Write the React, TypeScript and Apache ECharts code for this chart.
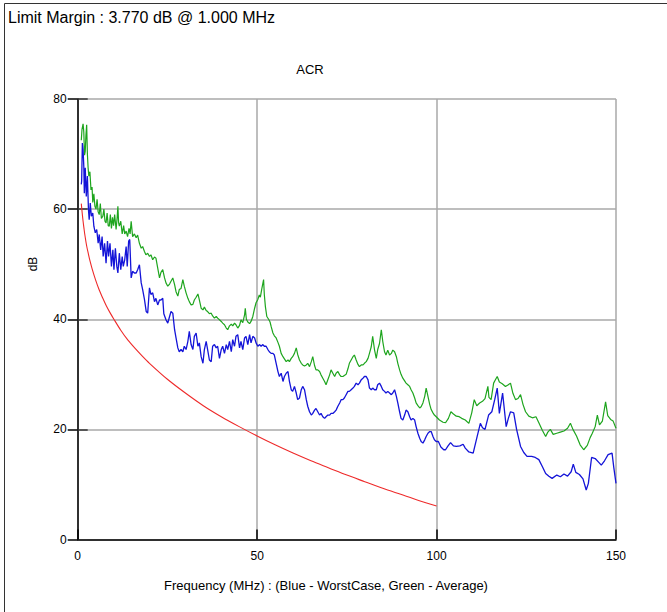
import React, { useEffect, useRef } from "react";
import * as echarts from "echarts";

const FONT = '"Liberation Sans", Arial, sans-serif';

const xTicks = [0, 50, 100, 150];
const yTicks = [0, 20, 40, 60, 80];

const limitFreq = [1, 1.25, 1.5, 1.75, 2, 2.5, 3, 3.5, 4, 5, 6, 7, 8, 9, 10, 12, 14, 16, 18, 20, 25, 30, 35, 40, 45, 50, 55, 60, 65, 70, 75, 80, 85, 90, 95, 100];
const limitDb = [61.0, 59.3, 57.8, 56.5, 55.3, 53.3, 51.8, 50.4, 49.2, 47.1, 45.3, 43.8, 42.4, 41.2, 40.1, 38.0, 36.2, 34.7, 33.3, 32.0, 29.1, 26.6, 24.3, 22.3, 20.5, 18.8, 17.2, 15.7, 14.3, 13.0, 11.7, 10.5, 9.3, 8.2, 7.1, 6.1];

const greenFreq = [
  1.0, 1.2, 1.5, 1.7, 1.9, 2.1, 2.3, 2.5, 2.7, 2.9, 3.1, 3.4, 3.7, 4.0, 4.2, 4.5, 4.8, 5.1, 5.4, 5.7,
  6.0, 6.3, 6.6, 7.0, 7.3, 7.6, 7.9, 8.2, 8.5, 8.8, 9.1, 9.4, 9.7, 10.0, 10.3, 10.7, 11.0, 11.2, 11.4, 11.6,
  12.0, 12.4, 12.8, 13.1, 13.5, 13.9, 14.3, 14.6, 14.9, 15.3, 15.8, 16.3, 16.7, 17.2, 17.7, 18.1, 18.6, 19.0, 19.5, 20.0,
  20.4, 20.9, 21.4, 21.8, 22.3, 22.8, 23.2, 23.7, 24.2, 24.6, 25.1, 25.6, 26.0, 26.5, 27.0, 27.4, 27.9, 28.3, 28.8, 29.3,
  29.7, 30.2, 30.7, 31.1, 31.6, 32.1, 32.5, 33.0, 33.5, 33.9, 34.4, 34.9, 35.3, 35.8, 36.2, 36.7, 37.2, 37.6, 38.1, 38.6,
  39.0, 39.5, 40.0, 40.4, 40.9, 41.4, 41.8, 42.3, 42.8, 43.2, 43.7, 44.1, 44.6, 45.1, 45.5, 46.0, 46.5, 46.7, 47.0, 47.4,
  47.9, 48.3, 48.8, 49.3, 49.7, 50.2, 50.6, 50.9, 51.3, 51.8, 52.0, 52.3, 52.7, 53.2, 53.6, 53.9, 54.4, 54.8, 55.3, 55.8,
  56.2, 56.7, 57.2, 57.6, 58.1, 58.6, 59.0, 59.5, 59.9, 60.4, 60.9, 61.3, 61.8, 62.3, 62.7, 63.2, 63.7, 64.1, 64.6, 65.1,
  65.5, 66.0, 66.4, 66.9, 67.4, 67.8, 68.3, 68.8, 69.2, 69.7, 70.2, 70.6, 71.1, 71.6, 72.0, 72.5, 73.0, 73.4, 73.9, 74.3,
  74.8, 75.3, 75.7, 76.2, 76.7, 77.1, 77.6, 78.1, 78.5, 79.0, 79.5, 79.9, 80.4, 80.9, 81.3, 81.8, 82.2, 82.7, 83.2, 83.6,
  84.1, 84.6, 85.0, 85.5, 85.9, 86.4, 86.9, 87.4, 87.8, 88.3, 88.8, 89.2, 89.7, 90.1, 90.6, 91.1, 91.5, 92.0, 92.5, 92.9,
  93.4, 93.9, 94.3, 94.8, 95.3, 95.7, 96.2, 96.7, 97.1, 97.6, 98.1, 98.5, 99.0, 99.4, 99.9, 100.8, 101.8, 102.5, 103.3, 104.0,
  104.7, 105.5, 106.3, 107.0, 108.0, 109.0, 109.8, 110.5, 111.2, 112.0, 112.8, 113.5, 114.3, 114.6, 115.2, 115.9, 116.4, 116.9, 117.5, 118.3,
  119.2, 120.0, 120.6, 121.3, 122.0, 122.7, 123.4, 124.1, 124.8, 125.7, 126.7, 127.7, 128.5, 129.5, 130.4, 131.0, 131.7, 132.5, 133.5, 134.5,
  135.5, 136.5, 137.3, 138.0, 139.0, 140.0, 141.0, 142.0, 142.8, 143.4, 144.2, 144.8, 145.4, 146.2, 147.1, 147.7, 148.5, 149.2, 150.0,
];
const greenDb = [
  72.5, 74.5, 75.5, 74.0, 69.8, 70.5, 73.5, 75.3, 70.0, 67.5, 66.0, 66.8, 63.5, 64.0, 61.2, 62.8, 60.5, 60.0, 61.8, 59.5,
  59.0, 61.0, 58.3, 58.7, 60.0, 57.8, 57.5, 59.3, 57.0, 56.9, 59.0, 56.5, 58.5, 57.0, 59.0, 56.3, 58.5, 60.5, 57.5, 56.9,
  57.8, 55.5, 57.0, 55.5, 56.0, 55.0, 56.5, 55.5, 57.8, 55.0, 55.5, 54.8, 55.3, 53.8, 52.9, 53.2, 52.3, 51.7, 52.0, 51.4,
  51.7, 50.8, 51.3, 51.1, 49.3, 47.5, 48.5, 49.0, 47.5, 46.6, 46.0, 46.4, 46.9, 47.5, 46.3, 45.0, 44.2, 45.4, 45.6, 47.2,
  46.0, 44.8, 43.8, 43.2, 42.6, 42.7, 43.5, 44.0, 44.6, 43.5, 42.0, 41.7, 42.2, 41.6, 41.4, 41.0, 41.1, 40.6, 40.2, 40.5,
  40.2, 39.9, 39.6, 39.3, 39.0, 38.4, 38.1, 38.8, 39.1, 38.8, 39.3, 39.0, 38.4, 38.9, 39.9, 39.4, 40.8, 42.0, 40.0, 39.5,
  39.2, 39.6, 40.5, 42.0, 43.0, 43.6, 44.4, 44.0, 45.5, 47.2, 44.5, 42.3, 40.5, 40.0, 39.5, 38.7, 37.5, 37.0, 36.6, 35.8,
  35.1, 33.8, 33.2, 32.8, 32.3, 32.6, 32.3, 32.9, 33.2, 33.8, 34.8, 33.6, 32.6, 32.0, 31.7, 31.5, 31.7, 32.0, 31.4, 32.3,
  33.2, 31.6, 30.8, 30.8, 30.5, 29.9, 29.3, 28.7, 28.1, 29.0, 29.9, 30.8, 30.2, 29.6, 30.2, 30.5, 29.9, 29.6, 29.6, 29.8,
  30.0, 31.0, 32.0, 32.6, 33.2, 33.5, 32.6, 31.8, 31.4, 31.7, 31.7, 32.0, 32.3, 32.9, 33.8, 35.0, 36.9, 34.5, 32.9, 34.5,
  35.6, 38.1, 36.0, 34.1, 33.5, 34.4, 33.5, 33.8, 34.4, 34.1, 33.2, 32.0, 30.8, 30.0, 29.3, 28.8, 28.4, 28.1, 27.8, 27.2,
  26.6, 25.7, 24.8, 24.3, 23.9, 24.1, 24.8, 26.0, 27.5, 26.0, 24.5, 23.6, 23.0, 22.6, 22.3, 21.7, 21.3, 21.2, 22.0, 23.2,
  22.8, 22.4, 22.3, 22.0, 21.7, 21.1, 23.0, 25.4, 24.3, 24.8, 25.1, 25.6, 27.8, 25.8, 25.4, 28.4, 29.0, 29.6, 28.6, 28.3,
  27.8, 28.1, 28.4, 26.5, 25.4, 25.6, 26.3, 24.5, 23.2, 22.4, 22.1, 22.3, 21.2, 19.8, 18.7, 19.5, 20.0, 19.1, 19.3, 19.5,
  19.7, 20.2, 21.1, 20.0, 18.8, 17.2, 16.3, 17.1, 18.5, 19.3, 20.5, 22.6, 20.8, 21.5, 25.0, 22.5, 21.8, 21.5, 20.2,
];

const blueFreq = [
  1.0, 1.1, 1.3, 1.5, 1.7, 1.85, 2.1, 2.4, 2.7, 3.0, 3.2, 3.5, 3.8, 4.2, 4.5, 4.9, 5.3, 5.7, 6.0, 6.4,
  6.8, 7.1, 7.5, 7.9, 8.3, 8.6, 9.0, 9.4, 9.8, 10.1, 10.5, 10.9, 11.2, 11.6, 12.0, 12.4, 12.7, 13.1, 13.5, 13.8,
  14.2, 14.5, 14.9, 15.3, 15.8, 16.3, 16.7, 17.2, 17.7, 18.1, 18.6, 19.1, 19.5, 20.0, 20.4, 20.9, 21.4, 21.8, 22.3, 22.8,
  23.2, 23.7, 24.0, 24.6, 25.1, 25.6, 26.0, 26.5, 27.0, 27.4, 27.9, 28.3, 28.8, 29.3, 29.7, 30.2, 30.7, 31.1, 31.6, 32.1,
  32.5, 33.0, 33.5, 33.9, 34.4, 34.9, 35.3, 35.8, 36.2, 36.7, 37.2, 37.6, 38.1, 38.6, 39.0, 39.5, 40.0, 40.4, 40.9, 41.4,
  41.8, 42.3, 42.8, 43.2, 43.7, 44.1, 44.6, 45.1, 45.5, 46.0, 46.5, 46.9, 47.4, 47.9, 48.3, 48.8, 49.3, 49.7, 50.2, 50.7,
  51.1, 51.6, 52.0, 52.5, 53.0, 53.4, 53.9, 54.4, 54.8, 55.3, 55.8, 56.2, 56.7, 57.2, 57.6, 58.1, 58.6, 59.0, 59.5, 59.9,
  60.4, 60.9, 61.3, 61.8, 62.3, 62.7, 63.2, 63.7, 64.1, 64.6, 65.1, 65.5, 66.0, 66.4, 66.9, 67.4, 67.8, 68.3, 68.8, 69.2,
  69.7, 70.2, 70.6, 71.1, 71.6, 72.0, 72.5, 73.0, 73.4, 73.9, 74.3, 74.8, 75.3, 75.7, 76.2, 76.7, 77.1, 77.6, 78.1, 78.5,
  79.0, 79.5, 79.9, 80.4, 80.9, 81.3, 81.8, 82.2, 82.7, 83.2, 83.6, 84.1, 84.6, 85.0, 85.5, 85.9, 86.4, 86.9, 87.4, 87.8,
  88.3, 88.8, 89.2, 89.7, 90.1, 90.6, 91.1, 91.5, 92.0, 92.5, 92.9, 93.4, 93.9, 94.3, 94.8, 95.3, 95.7, 96.2, 96.7, 97.1,
  97.6, 98.1, 98.5, 99.0, 99.4, 99.9, 100.5, 101.2, 102.0, 102.5, 103.2, 103.9, 104.7, 105.5, 106.5, 107.4, 108.0, 109.0, 110.2, 111.3,
  112.2, 112.8, 113.5, 114.5, 115.4, 116.2, 116.9, 117.5, 118.4, 119.4, 120.0, 120.6, 121.5, 122.3, 123.4, 124.3, 125.2, 126.5, 127.5, 128.5,
  129.5, 130.4, 131.3, 132.2, 133.5, 134.5, 135.5, 136.5, 137.5, 138.1, 138.8, 139.8, 140.8, 141.7, 142.3, 143.2, 144.2, 145.2, 145.9, 146.8,
  147.8, 148.9, 149.4, 150.0,
];
const blueDb = [
  64.5, 65.1, 72.0, 70.8, 67.8, 62.9, 67.5, 62.3, 66.0, 59.9, 58.1, 61.1, 58.7, 59.3, 56.9, 55.7, 56.3, 53.8, 55.4, 52.6,
  55.0, 51.4, 53.8, 50.2, 54.2, 51.4, 53.8, 49.6, 52.6, 49.0, 52.9, 49.6, 48.4, 52.0, 49.0, 51.4, 49.6, 50.8, 53.2, 49.6,
  54.2, 54.5, 47.5, 48.7, 48.4, 48.4, 49.0, 49.9, 46.6, 45.4, 43.6, 41.4, 41.1, 45.7, 44.5, 44.8, 43.2, 43.8, 42.6, 43.5,
  43.5, 43.8, 41.0, 39.9, 39.3, 40.5, 41.4, 41.1, 38.1, 36.6, 34.8, 34.1, 34.5, 34.1, 35.1, 34.5, 36.0, 37.8, 35.4, 34.5,
  36.9, 37.5, 35.1, 35.7, 33.2, 32.0, 34.5, 36.0, 34.5, 32.6, 32.3, 35.1, 35.4, 34.8, 35.1, 32.9, 34.5, 35.1, 33.8, 35.4,
  34.5, 36.0, 34.1, 36.3, 35.1, 36.9, 37.2, 34.8, 36.0, 34.5, 36.6, 36.9, 35.4, 37.2, 35.7, 36.9, 36.6, 35.7, 35.1, 35.4,
  35.1, 35.4, 35.1, 35.1, 34.5, 34.1, 33.8, 33.8, 33.5, 32.0, 30.5, 29.6, 30.2, 28.7, 29.6, 30.2, 30.5, 28.7, 27.2, 26.9,
  27.8, 26.6, 25.4, 25.7, 27.2, 27.8, 27.2, 25.4, 24.2, 23.2, 22.6, 22.9, 23.5, 23.8, 23.2, 22.6, 22.9, 22.3, 22.0, 22.3,
  22.6, 22.6, 22.9, 22.9, 23.2, 23.5, 24.2, 24.8, 25.4, 25.4, 25.7, 26.3, 26.9, 26.9, 27.2, 27.5, 27.8, 28.4, 28.1, 28.4,
  29.0, 29.3, 29.6, 29.6, 29.0, 27.5, 27.2, 27.5, 27.2, 27.2, 28.1, 28.4, 27.8, 27.2, 26.9, 26.6, 26.9, 26.6, 26.3, 26.6,
  27.2, 26.0, 24.8, 23.2, 22.0, 21.7, 22.6, 23.5, 23.2, 22.3, 21.7, 22.0, 21.7, 20.5, 19.3, 18.4, 17.8, 17.5, 18.1, 18.7,
  19.3, 19.6, 19.6, 18.7, 18.1, 17.8, 17.8, 16.8, 16.3, 16.3, 17.0, 17.6, 17.0, 16.9, 17.0, 17.3, 16.6, 15.9, 15.7, 18.7,
  21.1, 20.3, 20.0, 22.6, 23.2, 25.4, 27.5, 22.9, 26.6, 20.5, 22.0, 23.2, 23.0, 20.0, 16.9, 15.8, 15.1, 15.1, 14.9, 14.5,
  13.2, 12.0, 11.5, 11.1, 11.7, 11.4, 11.9, 11.5, 12.3, 13.7, 12.2, 11.8, 11.0, 9.0, 10.2, 14.9, 14.7, 14.0, 13.5, 14.3,
  15.4, 15.7, 13.0, 10.2,
];

const pairs = (xs: number[], ys: number[]) => xs.map((x, i) => [x, ys[i]]);

export default function App() {
  const ref = useRef<HTMLDivElement>(null);
  useEffect(() => {
    if (!ref.current) return;
    const chart = echarts.init(ref.current, undefined, { renderer: "svg" });
    const axisLabel = { color: "#000", fontSize: 12, fontFamily: FONT };
    const tickStyle = { color: "#000", width: 1.5 };
    chart.setOption({
      animation: false,
      backgroundColor: "#fff",
      grid: { left: 77.7, top: 99, width: 538.3, height: 440.5, containLabel: false },
      xAxis: {
        type: "value",
        min: xTicks[0],
        max: xTicks[xTicks.length - 1],
        interval: 50,
        axisLine: { show: true, lineStyle: { color: "#000", width: 1.5 } },
        axisTick: { show: true, inside: true, length: 10, lineStyle: tickStyle },
        axisLabel: { ...axisLabel, margin: 10 },
        splitLine: { show: true, lineStyle: { color: "#a8a8a8", width: 1.5 } },
      },
      yAxis: [
        {
          type: "value",
          min: yTicks[0],
          max: yTicks[yTicks.length - 1],
          interval: 20,
          position: "left",
          axisLine: { show: true, lineStyle: { color: "#000", width: 1.5 } },
          axisTick: { show: true, inside: false, length: 10, lineStyle: tickStyle },
          axisLabel: { ...axisLabel, margin: 11 },
          splitLine: { show: true, lineStyle: { color: "#a8a8a8", width: 1.5 } },
        },
        {
          type: "value",
          min: yTicks[0],
          max: yTicks[yTicks.length - 1],
          interval: 20,
          position: "left",
          offset: 0,
          axisLine: { show: false },
          axisTick: { show: true, inside: true, length: 10, lineStyle: { color: "#333", width: 1.5 } },
          axisLabel: { show: false },
          splitLine: { show: false },
        },
      ],
      series: [
        {
          name: "Limit",
          type: "line",
          data: pairs(limitFreq, limitDb),
          smooth: 0.3,
          showSymbol: false,
          lineStyle: { color: "#ee2a2a", width: 1.1 },
          z: 3,
        },
        {
          name: "Average",
          type: "line",
          data: pairs(greenFreq, greenDb),
          showSymbol: false,
          lineStyle: { color: "#1ea51e", width: 1.2 },
          z: 4,
        },
        {
          name: "WorstCase",
          type: "line",
          data: pairs(blueFreq, blueDb),
          showSymbol: false,
          lineStyle: { color: "#1414d8", width: 1.3 },
          z: 5,
        },
      ],
      graphic: [
        {
          type: "rect",
          shape: { x: 4.5, y: 3.5, width: 1000, height: 1000 },
          style: { fill: "none", stroke: "#333", lineWidth: 1 },
          z: -1,
        },
        {
          type: "text",
          x: 8,
          y: 9,
          style: { text: "Limit Margin : 3.770 dB @ 1.000 MHz", fontSize: 16, fontFamily: FONT, fill: "#000", verticalAlign: "top" },
        },
        {
          type: "text",
          x: 310,
          y: 69,
          style: { text: "ACR", fontSize: 13, fontFamily: FONT, fill: "#000", align: "center", verticalAlign: "middle" },
        },
        {
          type: "text",
          x: 33,
          y: 264,
          rotation: Math.PI / 2,
          style: { text: "dB", fontSize: 12, fontFamily: FONT, fill: "#000", align: "center", verticalAlign: "middle" },
        },
        {
          type: "text",
          x: 326,
          y: 585,
          style: {
            text: "Frequency (MHz) : (Blue - WorstCase, Green - Average)",
            fontSize: 13,
            fontFamily: FONT,
            fill: "#000",
            align: "center",
            verticalAlign: "middle",
          },
        },
      ],
    });
    return () => chart.dispose();
  }, []);
  return <div ref={ref} style={{ position: "fixed", left: 0, top: 0, width: 667, height: 612 }} />;
}
